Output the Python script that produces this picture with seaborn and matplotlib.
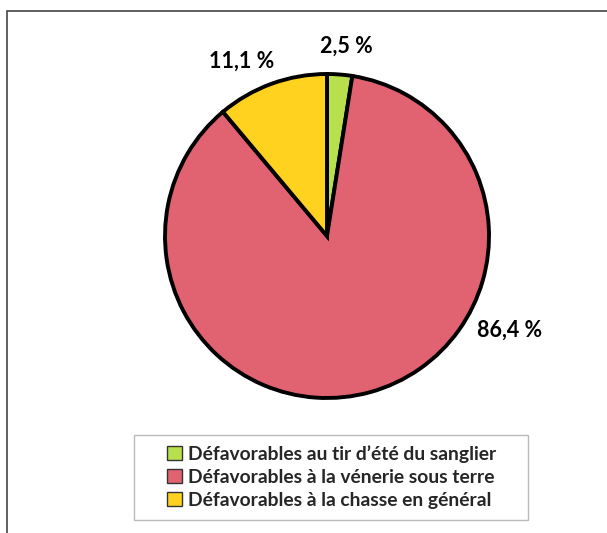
import matplotlib
matplotlib.use("Agg")
import matplotlib.pyplot as plt
import seaborn as sns
import numpy as np
from matplotlib.patches import Rectangle

categories = ["Défavorables au tir d\u2019été du sanglier",
              "Défavorables à la vénerie sous terre",
              "Défavorables à la chasse en général"]
values = [2.5, 86.4, 11.1]
value_labels = ["2,5 %", "86,4 %", "11,1 %"]
colors = ["#B8E04C", "#E16270", "#FFD21F"]

sns.set_theme(style="white")
plt.rcParams['font.family'] = ['Lato', 'DejaVu Sans']

W, H = 607, 533
fig = plt.figure(figsize=(W/100, H/100), dpi=100)

# outer frame (right and bottom cut off)
fig.patches.append(Rectangle((7/W, -0.05), 1.1, 1 - 11/H + 0.05, transform=fig.transFigure,
                             fill=False, edgecolor="#444444", linewidth=1.2))
# legend box
fig.patches.append(Rectangle((134/W, 1 - 520/H), (528 - 134)/W, (520 - 435)/H,
                             transform=fig.transFigure, fill=False,
                             edgecolor="#BBBBBB", linewidth=1.0))

cx, cy, r = 327, 236, 162
ax = fig.add_axes([(cx - r)/W, 1 - (cy + r)/H, 2*r/W, 2*r/H])
wedges, _ = ax.pie(values, colors=colors, startangle=90, counterclock=False,
                   wedgeprops=dict(edgecolor="black", linewidth=2.8))
ax.set_xlim(-1, 1)
ax.set_ylim(-1, 1)
ax.set_aspect("equal")
ax.axis("off")

# label positions (fraction of radius)
label_pos = [(0.12, 1.17), (1.13, -0.58), (-0.53, 1.08)]
for lab, (x, y) in zip(value_labels, label_pos):
    ax.text(x, y, lab, ha="center", va="center", fontsize=15.5, fontweight="bold",
            color="black", clip_on=False)

leg = fig.legend(wedges, categories, loc="center",
                 bbox_to_anchor=((134 + 528)/2/W + 0.5/W, 1 - 477/H), frameon=False,
                 prop=dict(family="Lato", weight="bold", size=13.9),
                 handlelength=0.75, handleheight=0.75, handletextpad=0.3,
                 labelspacing=0.3, borderpad=0.0)
for h in leg.legend_handles:
    h.set_edgecolor("#333333")
    h.set_linewidth(1.0)

fig.savefig("out.png", dpi=100)
